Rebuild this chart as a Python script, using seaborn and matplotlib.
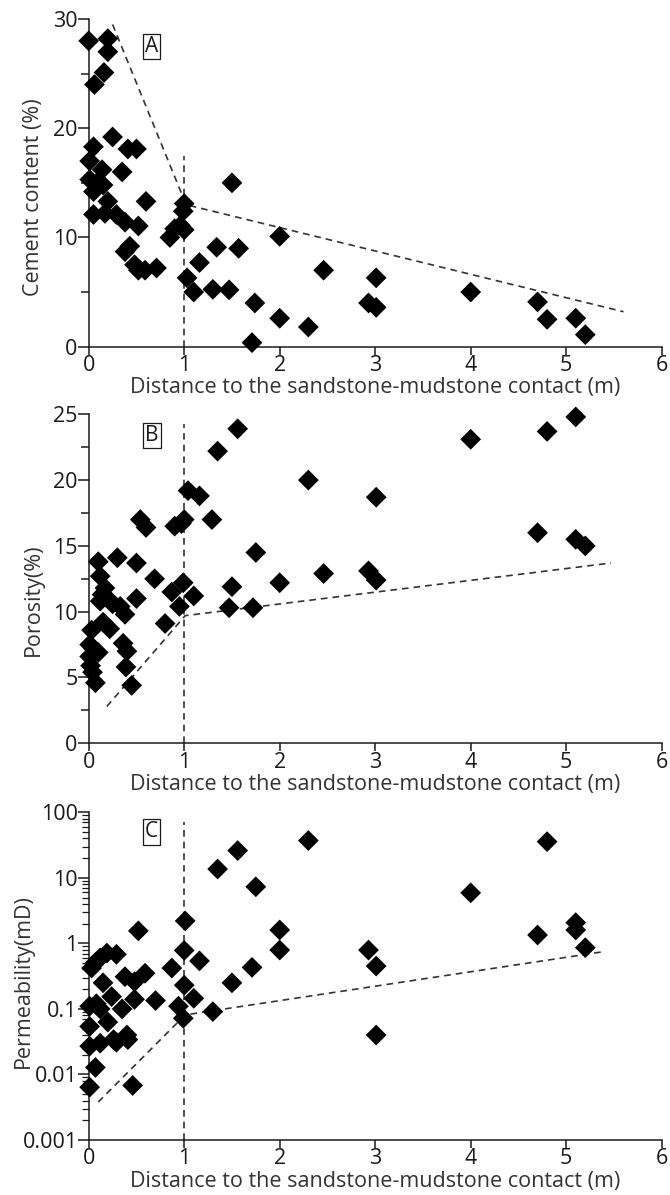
import numpy as np
import pandas as pd
import matplotlib
matplotlib.use("Agg")
import matplotlib.pyplot as plt
from matplotlib.ticker import MultipleLocator, FixedLocator, LogLocator, NullFormatter, FuncFormatter
import seaborn as sns

# ---- data -------------------------------------------------------------
dist_cement = [0.00, 0.20, 0.20, 0.16, 0.06, 0.25, 0.05, 0.41, 0.50, 0.01,
               0.14, 0.35, 0.01, 0.10, 0.15, 0.05, 0.20, 0.60, 0.05, 0.17,
               0.29, 0.38, 0.52, 1.50, 1.00, 0.99, 0.96, 0.90, 1.00, 0.85,
               0.43, 0.38, 0.48, 0.59, 0.71, 0.52, 1.34, 1.57, 1.16, 1.03,
               1.10, 1.30, 1.47, 1.74, 1.71, 2.00, 2.00, 2.30, 2.46, 2.93,
               3.01, 3.01, 4.00, 4.70, 4.80, 5.10, 5.20]
cement = [28.0, 28.2, 27.0, 25.1, 24.0, 19.2, 18.3, 18.1, 18.1, 17.0,
          16.2, 16.0, 15.3, 15.1, 14.8, 14.2, 13.3, 13.3, 12.1, 12.2,
          12.1, 11.4, 11.05, 15.0, 13.1, 12.4, 11.1, 10.8, 10.7, 10.0,
          9.2, 8.7, 7.5, 7.0, 7.2, 7.0, 9.1, 9.0, 7.7, 6.3,
          5.0, 5.25, 5.2, 4.0, 0.37, 10.1, 2.6, 1.8, 7.0, 4.0,
          6.3, 3.6, 5.0, 4.1, 2.5, 2.6, 1.1]

dist_porosity = [1.56, 1.35, 2.30, 1.04, 1.16, 0.54, 0.60, 1.29, 0.90, 0.97,
                 1.00, 1.75, 0.10, 0.30, 0.50, 0.12, 0.69, 0.99, 2.00, 2.46,
                 1.50, 0.87, 1.10, 0.50, 0.17, 0.14, 0.20, 0.12, 0.25, 0.33,
                 0.38, 0.95, 1.47, 1.72, 0.15, 0.22, 0.80, 0.03, 0.36, 0.40,
                 0.01, 0.05, 0.10, 0.01, 0.02, 0.04, 0.07, 0.39, 0.45, 3.01,
                 4.00, 4.80, 5.10, 4.70, 5.10, 5.20, 2.93, 3.01]
porosity = [23.9, 22.2, 20.0, 19.2, 18.8, 17.0, 16.4, 17.0, 16.5, 16.7,
            17.0, 14.5, 13.8, 14.1, 13.7, 12.7, 12.5, 12.2, 12.2, 12.9,
            11.9, 11.5, 11.2, 11.0, 11.8, 11.3, 11.0, 10.8, 10.6, 10.4,
            9.8, 10.4, 10.3, 10.3, 9.2, 8.7, 9.1, 8.6, 7.6, 7.0,
            7.5, 7.2, 6.9, 6.6, 5.9, 5.4, 4.6, 5.8, 4.4, 18.7,
            23.1, 23.7, 24.8, 16.0, 15.5, 15.0, 13.1, 12.4]

dist_perm = [2.30, 1.56, 1.35, 1.75, 1.01, 0.52, 2.00, 2.00, 1.00, 1.16,
             0.87, 1.71, 1.50, 1.00, 1.10, 1.30, 0.94, 0.99, 0.70, 0.48,
             0.35, 0.38, 0.48, 0.59, 0.19, 0.29, 0.12, 0.07, 0.03, 0.15,
             0.24, 0.08, 0.12, 0.01, 0.20, 0.01, 0.40, 0.41, 0.26, 0.12,
             0.29, 0.01, 0.07, 0.01, 0.46, 4.80, 4.00, 5.10, 5.10, 4.70,
             5.20, 2.93, 3.01, 3.01]
permeability = [37.0, 26.0, 13.6, 7.3, 2.2, 1.55, 1.6, 0.79, 0.78, 0.54,
                0.42, 0.43, 0.25, 0.23, 0.145, 0.091, 0.11, 0.072, 0.134, 0.14,
                0.10, 0.31, 0.26, 0.35, 0.71, 0.68, 0.60, 0.51, 0.42, 0.25,
                0.154, 0.12, 0.10, 0.11, 0.063, 0.054, 0.040, 0.034, 0.034, 0.030,
                0.031, 0.027, 0.0128, 0.0064, 0.0068, 35.6, 5.9, 2.07, 1.6, 1.34,
                0.86, 0.79, 0.45, 0.040]

# trend (envelope) lines: vertices (distance, value)
trend_cement_x = [0.25, 1.02, 5.60]
trend_cement_y = [29.5, 13.0, 3.2]
trend_poro_x = [0.19, 1.01, 5.47]
trend_poro_y = [2.8, 9.7, 13.7]
trend_perm_x = [0.10, 1.01, 5.40]
trend_perm_y = [0.0038, 0.081, 0.75]

# ---- style ------------------------------------------------------------
sns.set_style("ticks")
plt.rcParams["font.family"] = ["Open Sans", "DejaVu Sans"]
INK = "#1a1a1a"
plt.rcParams.update({
    "axes.edgecolor": INK,
    "axes.linewidth": 1.1,
    "xtick.color": INK,
    "ytick.color": INK,
    "text.color": INK,
    "axes.labelcolor": "#333333",
    "xtick.labelcolor": INK,
    "ytick.labelcolor": INK,
})

fig = plt.figure(figsize=(6.70, 11.95), dpi=100)
left, width = 0.1324, 0.8552
ax_a = fig.add_axes([left, 0.7099, width, 0.2742])
ax_b = fig.add_axes([left, 0.3780, width, 0.2753])
ax_c = fig.add_axes([left, 0.0460, width, 0.2743])

XLABEL = "Distance to the sandstone-mudstone contact (m)"
FS = 15.5
DASH_COLOR = "#333333"


def draw_panel(ax, xs, ys, tx, ty, vtop, letter, letter_y):
    df = pd.DataFrame({"d": xs, "v": ys})
    sns.scatterplot(data=df, x="d", y="v", ax=ax, marker="D", s=112,
                    color="black", edgecolor="none", linewidth=0, zorder=3,
                    clip_on=False)
    sns.lineplot(x=tx, y=ty, ax=ax, color=DASH_COLOR, lw=1.2,
                 linestyle=(0, (4, 3)), sort=False, estimator=None, zorder=2)
    ax.plot([1, 1], [ax.get_ylim()[0], vtop], color=DASH_COLOR, lw=1.2,
            linestyle=(0, (4, 3)), zorder=2)
    ax.text(0.66, letter_y, letter, fontsize=15, ha="center", va="center",
            bbox=dict(boxstyle="square,pad=0.1", fc="white", ec=INK, lw=0.9),
            zorder=4)
    ax.set_xlim(0, 6)
    ax.xaxis.set_major_locator(MultipleLocator(1))
    ax.set_xlabel(XLABEL, fontsize=FS, labelpad=1)
    ax.tick_params(axis="x", which="major", length=6, width=1.1, pad=0,
                   labelsize=FS)
    ax.tick_params(axis="y", which="major", length=8, width=1.1, pad=0,
                   labelsize=FS)
    ax.tick_params(axis="y", which="minor", length=6, width=1.1)
    sns.despine(ax=ax)


# Panel A: cement content
ax_a.set_ylim(0, 30)
draw_panel(ax_a, dist_cement, cement, trend_cement_x, trend_cement_y,
           17.5, "A", 27.5)
ax_a.yaxis.set_major_locator(MultipleLocator(10))
ax_a.yaxis.set_minor_locator(MultipleLocator(5))
ax_a.set_ylabel("Cement content (%)", fontsize=FS)
ax_a.yaxis.set_label_coords(-0.078, 0.457)

# Panel B: porosity
ax_b.set_ylim(0, 25)
draw_panel(ax_b, dist_porosity, porosity, trend_poro_x, trend_poro_y,
           24.3, "B", 23.4)
ax_b.yaxis.set_major_locator(MultipleLocator(5))
ax_b.yaxis.set_minor_locator(MultipleLocator(2.5))
ax_b.set_ylabel("Porosity(%)", fontsize=FS)
ax_b.yaxis.set_label_coords(-0.078, 0.436)

# Panel C: permeability (log axis)
ax_c.set_yscale("log")
ax_c.set_ylim(0.001, 100)
draw_panel(ax_c, dist_perm, permeability, trend_perm_x, trend_perm_y,
           72, "C", 50)
ax_c.yaxis.set_major_locator(FixedLocator([0.001, 0.01, 0.1, 1, 10, 100]))
ax_c.yaxis.set_major_formatter(FuncFormatter(lambda v, p: f"{v:g}"))
ax_c.yaxis.set_minor_locator(LogLocator(base=10, subs=np.arange(2, 10)))
ax_c.yaxis.set_minor_formatter(NullFormatter())
ax_c.tick_params(axis="y", which="minor", length=5, width=0.9)
ax_c.set_ylabel("Permeability(mD)", fontsize=FS)
ax_c.yaxis.set_label_coords(-0.096, 0.484)

fig.savefig("out.png", dpi=100, facecolor="white")
